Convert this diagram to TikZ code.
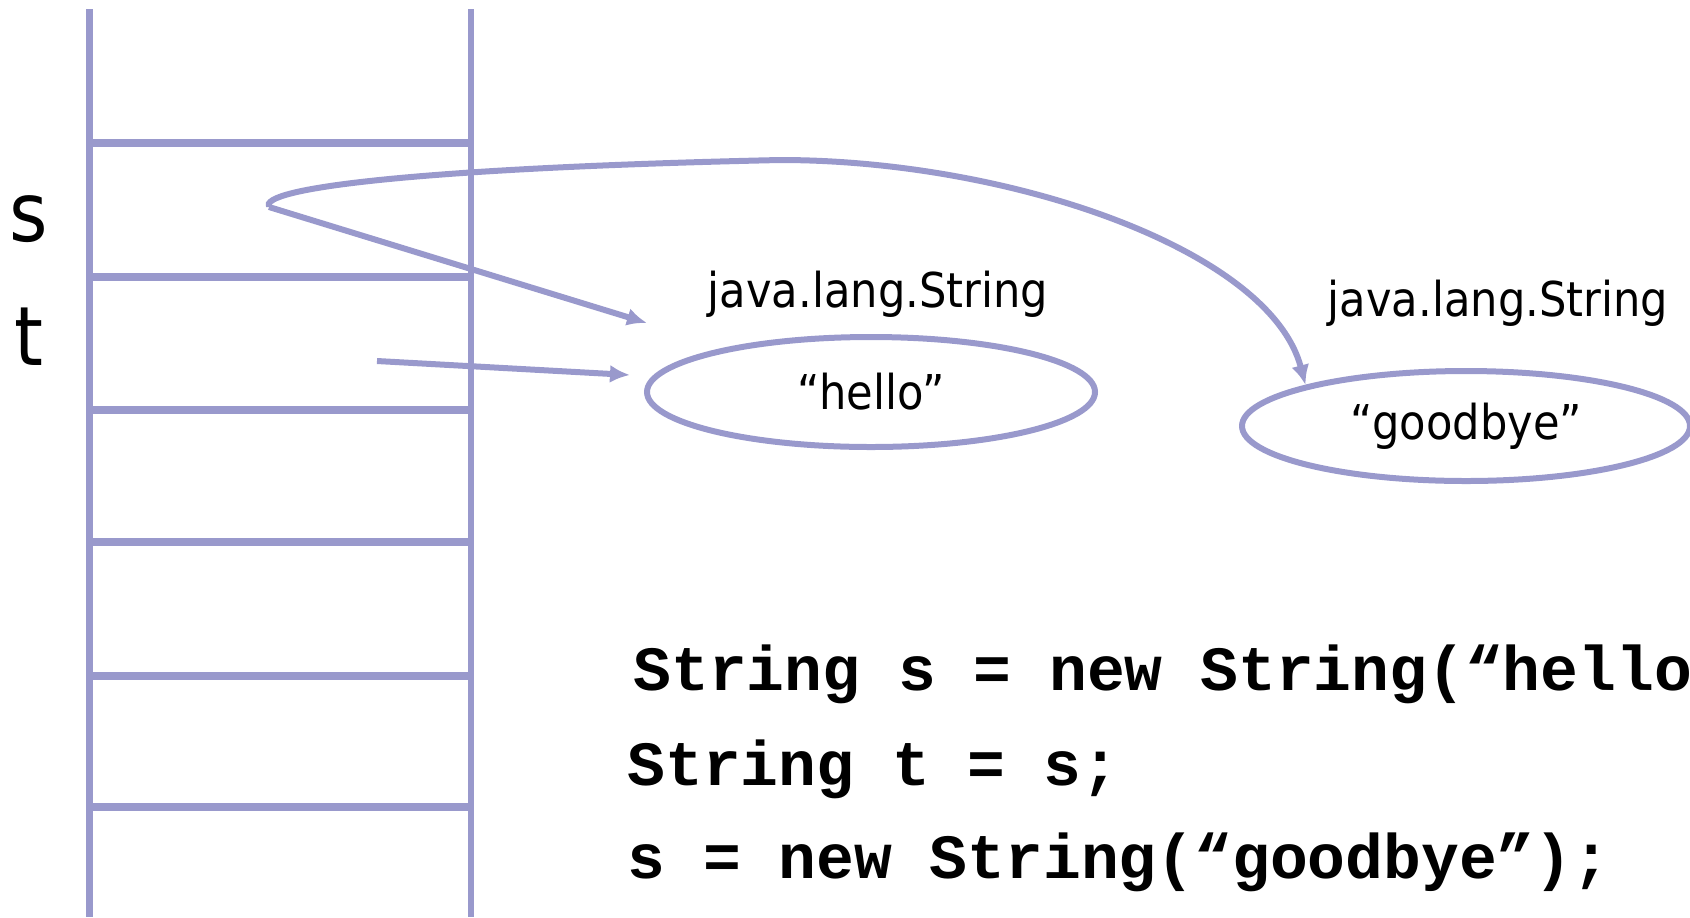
\documentclass[tikz,border=0pt]{standalone}
\usepackage{fontspec}
\setmainfont{DejaVu Sans}[FakeStretch=0.9]
\newfontfamily\codefont{Liberation Mono}
\usetikzlibrary{shapes.geometric,arrows.meta}
\definecolor{lav}{RGB}{153,153,204}
\begin{document}
\begin{tikzpicture}[x=0.5pt,y=-0.5pt,
  stackv/.style={draw=lav,line width=3.1pt},
  stackh/.style={draw=lav,line width=4pt},
  ptr/.style={draw=lav,line width=3pt,-{Latex[length=10pt,width=9pt]}},
  obj/.style={draw=lav,line width=3pt,ellipse,minimum width=224pt,minimum height=55pt,inner sep=0pt,font=\fontsize{24}{28}\selectfont},
  cls/.style={anchor=base,inner sep=0pt,font=\fontsize{24}{28}\selectfont},
  var/.style={inner sep=0pt,font=\fontsize{41}{48}\selectfont},
  code/.style={anchor=base west,inner sep=0pt,font=\codefont\bfseries\fontsize{31.5}{36}\selectfont}]
\useasboundingbox (0,0) rectangle (1690,917);
% stack
\draw[stackv] (89.5,9) -- (89.5,917);
\draw[stackv] (471,9) -- (471,917);
\foreach \y in {143,277,410,542,676,807}
  \draw[stackh] (89.5,\y) -- (471,\y);
% variable labels
\node[var] (slabel) at (29,219) {s};
\node[var] (tlabel) at (29,337) {t};
% objects
\node[obj] (hello) at (871,392) {“hello”};
\node[obj] (goodbye) at (1466,426) {“goodbye”};
\node[cls] (cls1) at (878,307) {java.lang.String};
\node[cls] (cls2) at (1498,316) {java.lang.String};
% pointers
\coordinate (sp) at (269,207);
\coordinate (tp) at (377,361);
\coordinate (hs) at (647,323);
\coordinate (ht) at (630,375);
\draw[ptr] (sp) -- (hs);
\draw[ptr] (tp) -- (ht);
\draw[ptr] (sp) .. controls (258,188) and (420,168) .. (780,160)
  .. controls (1010,160) and (1270,250) .. (goodbye.north west);
% code
\node[code] (c1) at (633,690) {String s = new String(“hello”);};
\node[code] (c2) at (627,785) {String t = s;};
\node[code] (c3) at (627,878) {s = new String(“goodbye”);};
\end{tikzpicture}
\end{document}
